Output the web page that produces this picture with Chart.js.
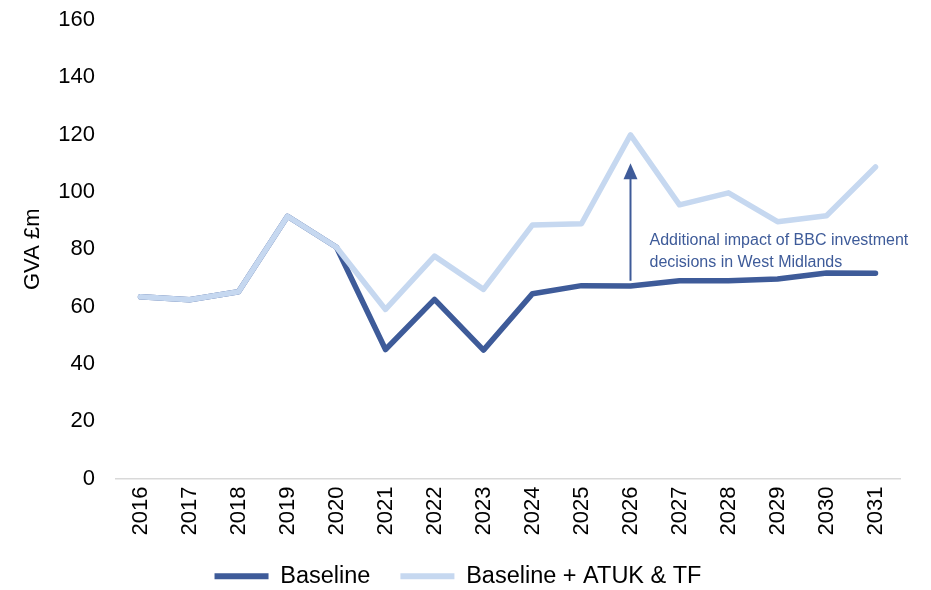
<!DOCTYPE html>
<html>
<head>
<meta charset="utf-8">
<script src="https://cdn.jsdelivr.net/npm/chart.js@4.4.1/dist/chart.umd.min.js"></script>
<style>
  html, body { margin: 0; padding: 0; background: #ffffff; }
  #wrap { width: 931px; height: 590px; position: relative; }
</style>
</head>
<body>
<div id="wrap"><canvas id="c"></canvas></div>
<script>
const years = ['2016','2017','2018','2019','2020','2021','2022','2023','2024','2025','2026','2027','2028','2029','2030','2031'];
const baseline = [63.4, 62.4, 65.2, 91.5, 80.7, 45.0, 62.5, 44.8, 64.5, 67.3, 67.2, 69.0, 69.0, 69.6, 71.7, 71.6];
const baselinePlus = [63.4, 62.4, 65.2, 91.5, 80.7, 59.0, 77.6, 66.0, 88.5, 88.9, 119.9, 95.5, 99.7, 89.6, 91.7, 108.7];
const yTicks = [0, 20, 40, 60, 80, 100, 120, 140, 160];

// Annotation (arrow from baseline up towards the upper series at 2026)
const arrowYear = '2026';
const arrowFromValue = 69.0;
const arrowToValue = 110.0;
const annotationLines = ['Additional impact of BBC investment', 'decisions in West Midlands'];
const annotationLineValues = [83.0, 75.5];

const DARK = '#3E5B99';
const LIGHT = '#C6D8F0';
const FONT = "'Liberation Sans', Arial, sans-serif";

const annotationPlugin = {
  id: 'arrowNote',
  afterDatasetsDraw(chart) {
    const ctx = chart.ctx;
    const xs = chart.scales.x, ys = chart.scales.y;
    const idx = years.indexOf(arrowYear);
    const x = xs.getPixelForValue(idx);
    const y0 = ys.getPixelForValue(arrowFromValue);
    const y1 = ys.getPixelForValue(arrowToValue);
    ctx.save();
    ctx.strokeStyle = DARK;
    ctx.fillStyle = DARK;
    ctx.lineWidth = 2;
    ctx.beginPath();
    ctx.moveTo(x, y0);
    ctx.lineTo(x, y1 + 14);
    ctx.stroke();
    ctx.beginPath();
    ctx.moveTo(x, y1);
    ctx.lineTo(x - 7, y1 + 16);
    ctx.lineTo(x + 7, y1 + 16);
    ctx.closePath();
    ctx.fill();
    ctx.font = '16px ' + FONT;
    ctx.textAlign = 'left';
    ctx.textBaseline = 'middle';
    annotationLines.forEach((t, i) => {
      ctx.fillText(t, x + 19, ys.getPixelForValue(annotationLineValues[i]));
    });
    ctx.restore();
  }
};

new Chart(document.getElementById('c'), {
  type: 'line',
  data: {
    labels: years,
    datasets: [
      {
        label: 'Baseline + ATUK & TF',
        data: baselinePlus,
        borderColor: LIGHT,
        backgroundColor: LIGHT,
        borderWidth: 5.5,
        pointRadius: 0,
        borderJoinStyle: 'round',
        borderCapStyle: 'round',
        tension: 0
      },
      {
        label: 'Baseline',
        data: baseline,
        borderColor: DARK,
        backgroundColor: DARK,
        borderWidth: 5.5,
        pointRadius: 0,
        borderJoinStyle: 'round',
        borderCapStyle: 'round',
        tension: 0
      }
    ]
  },
  options: {
    responsive: true,
    maintainAspectRatio: false,
    animation: false,
    layout: { padding: { left: 16, right: 31, top: 0, bottom: -8 } },
    plugins: {
      tooltip: { enabled: false },
      legend: {
        position: 'bottom',
        reverse: true,
        labels: {
          boxWidth: 54,
          boxHeight: 6,
          padding: 30,
          color: '#000',
          font: { family: FONT, size: 23.5 },
          generateLabels(chart) {
            const items = Chart.defaults.plugins.legend.labels.generateLabels(chart);
            items.forEach(it => { it.lineWidth = 0; });
            return items;
          }
        }
      }
    },
    scales: {
      x: {
        offset: true,
        grid: { display: false, drawTicks: false },
        border: { display: true, color: '#D9D9D9', width: 1.5 },
        ticks: {
          minRotation: 90,
          maxRotation: 90,
          padding: 8,
          color: '#000',
          font: { family: FONT, size: 22 }
        },
        afterFit(scale) { scale.height = 56; }
      },
      y: {
        min: 0,
        max: 160,
        afterBuildTicks(scale) { scale.ticks = yTicks.map(v => ({ value: v })); },
        afterFit(scale) { scale.width = 100; scale.paddingTop = 20; },
        grid: { display: false, drawTicks: false },
        border: { display: false },
        title: {
          display: true,
          text: 'GVA £m',
          color: '#000',
          font: { family: FONT, size: 22 },
          padding: { top: 4, bottom: 4 }
        },
        ticks: {
          padding: 21,
          color: '#000',
          font: { family: FONT, size: 22 }
        }
      }
    }
  },
  plugins: [annotationPlugin]
});
</script>
</body>
</html>
